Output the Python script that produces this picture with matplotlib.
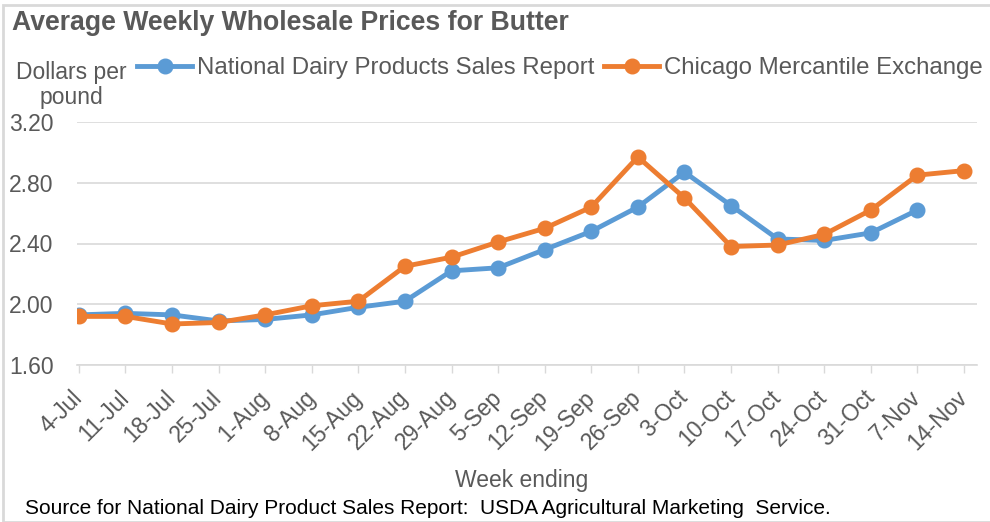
import matplotlib

matplotlib.use("Agg")
import matplotlib.pyplot as plt
from matplotlib.lines import Line2D
from matplotlib.patches import Rectangle

plt.rcParams["font.family"] = ["Liberation Sans", "DejaVu Sans"]

weeks = ["4-Jul", "11-Jul", "18-Jul", "25-Jul", "1-Aug", "8-Aug", "15-Aug",
         "22-Aug", "29-Aug", "5-Sep", "12-Sep", "19-Sep", "26-Sep", "3-Oct",
         "10-Oct", "17-Oct", "24-Oct", "31-Oct", "7-Nov", "14-Nov"]
ndpsr = [1.93, 1.94, 1.93, 1.89, 1.90, 1.93, 1.98, 2.02, 2.22, 2.24,
         2.36, 2.48, 2.64, 2.87, 2.65, 2.43, 2.42, 2.47, 2.62]
cme = [1.92, 1.92, 1.87, 1.88, 1.93, 1.99, 2.02, 2.25, 2.31, 2.41,
       2.50, 2.64, 2.97, 2.70, 2.38, 2.39, 2.46, 2.62, 2.85, 2.88]
yticks = [1.60, 2.00, 2.40, 2.80, 3.20]

BLUE = "#5b9bd5"
ORANGE = "#ed7d31"
TXT = "#595959"
GRID = "#d9d9d9"

W, H = 990, 522
fig = plt.figure(figsize=(W / 100, H / 100), dpi=100)
ax = fig.add_axes([77 / W, 1 - 365 / H, (977 - 77) / W, (365 - 122) / H])

ax.plot(range(len(ndpsr)), ndpsr, color=BLUE, lw=3.5, marker="o", ms=10.5,
        solid_capstyle="round", zorder=3)
ax.plot(range(len(cme)), cme, color=ORANGE, lw=3.5, marker="o", ms=10.5,
        solid_capstyle="round", zorder=4)

ax.set_xlim(-0.04, 19.28)
ax.set_ylim(1.6, 3.2)
ax.set_yticks(yticks)
ax.set_yticklabels([f"{v:.2f}" for v in yticks])
ax.set_xticks(range(len(weeks)))
ax.set_xticklabels(weeks, rotation=45, ha="right", va="center",
                   rotation_mode="anchor")
ax.tick_params(axis="y", length=0, pad=17, labelsize=16.5, labelcolor=TXT)
ax.tick_params(axis="x", length=6, width=1, color=GRID, pad=15,
               labelsize=16.5, labelcolor=TXT)
ax.grid(axis="y", color=GRID, lw=1.2)
ax.set_axisbelow(True)
for s in ("top", "right", "left"):
    ax.spines[s].set_visible(False)
ax.spines["bottom"].set_color(GRID)
ax.spines["bottom"].set_linewidth(1.2)

fig.text(12 / W, 1 - 23 / H, "Average Weekly Wholesale Prices for Butter",
         fontsize=19.2, fontweight="bold", color=TXT, va="center")
fig.text(71 / W, 1 - 85 / H, "Dollars per\npound", fontsize=16.5, color=TXT,
         ha="center", va="center", linespacing=1.15)
fig.text(522 / W, 1 - 481 / H, "Week ending", fontsize=16.5, color=TXT,
         ha="center", va="center")
fig.text(25 / W, 1 - 508 / H,
         "Source for National Dairy Product Sales Report:  USDA Agricultural Marketing  Service.",
         fontsize=15, color="black", va="center")

handles = [Line2D([], [], color=BLUE, lw=3.5, marker="o", ms=10.5),
           Line2D([], [], color=ORANGE, lw=3.5, marker="o", ms=10.5)]
fig.legend(handles, ["National Dairy Products Sales Report",
                     "Chicago Mercantile Exchange"],
           loc="center left", bbox_to_anchor=(137 / W, 1 - 68 / H), ncol=2,
           frameon=False, fontsize=17.3, labelcolor=TXT, handlelength=2.3,
           handletextpad=0.2, columnspacing=0.4, borderaxespad=0,
           borderpad=0)

fig.patches.append(Rectangle((3 / W, 0), 1.2, (H - 5) / H, transform=fig.transFigure,
                             fill=False, edgecolor=GRID, lw=2))

fig.savefig("out.png", dpi=100)
